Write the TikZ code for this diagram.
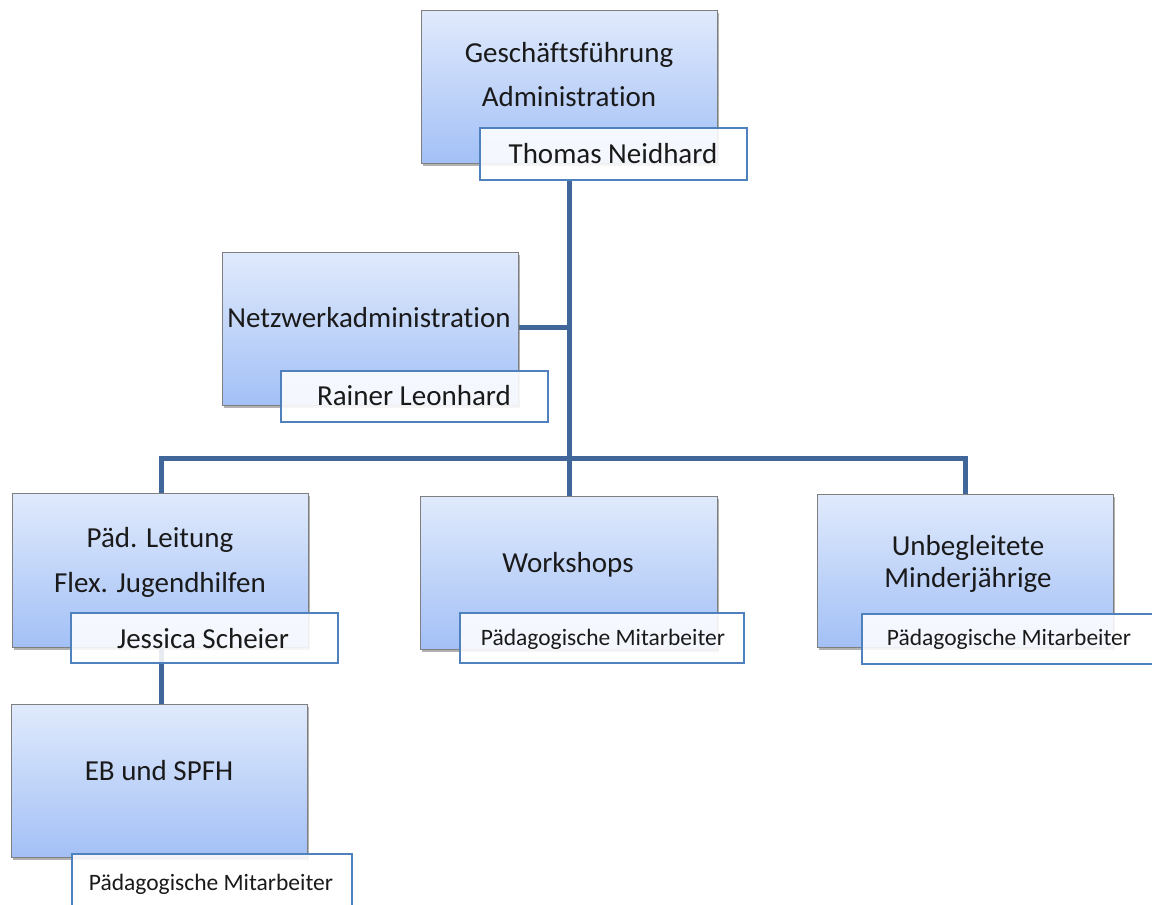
\documentclass[tikz,border=0pt]{standalone}
\usepackage{fontspec}
\setmainfont[Ligatures=NoCommon]{Carlito}
\usetikzlibrary{shadows}
\definecolor{linec}{HTML}{41669A}
\definecolor{namec}{HTML}{4F81BD}
\definecolor{boxtop}{HTML}{E0EAFC}
\definecolor{boxbot}{HTML}{A3C0F6}
\definecolor{boxedge}{HTML}{7F7F7F}
\definecolor{txt}{HTML}{1A1A1A}
\tikzset{
  unitbox/.style={draw=boxedge, line width=1pt, top color=boxtop, bottom color=boxbot,
    drop shadow={shadow xshift=2pt, shadow yshift=-3pt, opacity=0.5, fill=black!60}},
  namebox/.style={draw=namec, line width=1.5pt, fill=white, fill opacity=0.88, draw opacity=1},
  bigtxt/.style={font=\fontsize{29}{33}\selectfont, text=txt, inner sep=0pt, anchor=base},
  smalltxt/.style={font=\fontsize{23.5}{27}\selectfont, text=txt, inner sep=0pt, anchor=base},
  conn/.style={draw=linec, line width=5pt}
}
\begin{document}
\begin{tikzpicture}[x=1pt,y=-1pt]
\useasboundingbox (0,0) rectangle (1152,905);
% connectors
\coordinate (bus) at (569,458);
\draw[conn] (569,180) -- (569,458);
\draw[conn] (518,327) -- (569,327);
\draw[conn] (161,493) -- (161,458) -- (965,458) -- (965,494);
\draw[conn] (569,458) -- (569,496);
\draw[conn] (161,647) -- (161,704);
% Geschaeftsfuehrung
\path[unitbox] (421,10) rectangle (717,163);
\node[bigtxt] (gf1) at (569,62) {Geschäftsführung};
\node[bigtxt] (gf2) at (569,106) {Administration};
\path[namebox] (480,128) rectangle (747,180);
\node[bigtxt] (gfn) at (613,163) {Thomas Neidhard};
% Netzwerk
\path[unitbox] (222,252) rectangle (518,405);
\node[bigtxt] (nw1) at (369,327) {Netzwerkadministration};
\path[namebox] (281,371) rectangle (548,422);
\node[bigtxt] (nwn) at (414,405) {Rainer Leonhard};
% Paed. Leitung
\path[unitbox] (12,493) rectangle (308,647);
\node[bigtxt] (pl1) at (160,547) {Päd. Leitung};
\node[bigtxt] (pl2) at (160,592) {Flex. Jugendhilfen};
\path[namebox] (71,613) rectangle (338,663);
\node[bigtxt] (pln) at (203,648) {Jessica Scheier};
% EB
\path[unitbox] (11,704) rectangle (307,857);
\node[bigtxt] (eb1) at (159,780) {EB und SPFH};
\path[namebox] (72,854) rectangle (352,912);
\node[smalltxt] (ebn) at (211,890) {Pädagogische Mitarbeiter};
% Workshops
\path[unitbox] (420,496) rectangle (717,649);
\node[bigtxt] (ws1) at (568,572) {Workshops};
\path[namebox] (460,613) rectangle (744,663);
\node[smalltxt] (wsn) at (603,645) {Pädagogische Mitarbeiter};
% Unbegleitete
\path[unitbox] (817,494) rectangle (1113,647);
\node[bigtxt] (um1) at (968,555) {Unbegleitete};
\node[bigtxt] (um2) at (968,587) {Minderjährige};
\path[namebox] (862,614) rectangle (1165,664);
\node[smalltxt] (umn) at (1009,645) {Pädagogische Mitarbeiter};
\end{tikzpicture}
\end{document}
